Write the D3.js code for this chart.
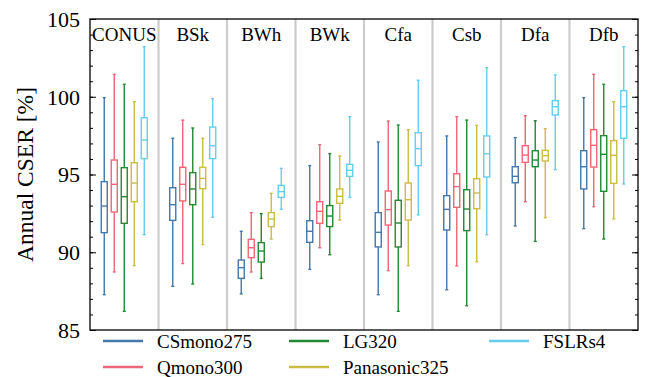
<!DOCTYPE html>
<html><head><meta charset="utf-8">
<script src="https://cdn.jsdelivr.net/npm/d3@7"></script>
<style>body{margin:0;background:#fff}svg{display:block}text{font-family:"Liberation Serif","Times New Roman",serif}</style>
</head><body><svg id="c" width="649" height="377"></svg>
<script>
const categories = ["CONUS","BSk","BWh","BWk","Cfa","Csb","Dfa","Dfb"];
const seriesNames = ["CSmono275","Qmono300","LG320","Panasonic325","FSLRs4"];
const seriesColors = ["#4477AA","#EE6677","#228833","#CCBB44","#66CCEE"];
const yTicks = [85,90,95,100,105];
// five-number summaries per category: [low whisker, Q1, median, Q3, high whisker]
const CSmono275 = [[87.27,91.26,92.97,94.54,99.94],[87.81,92.05,93.06,94.15,97.33],[87.32,88.32,89.01,89.5,91.35],[88.9,90.64,91.35,92.03,95.57],[87.27,90.34,91.28,92.55,97.09],[87.59,91.43,92.76,93.64,97.48],[91.69,94.47,94.88,95.5,97.37],[91.52,94.07,95.5,96.53,99.94]];
const Qmono300 = [[88.73,92.59,94.37,95.93,101.44],[89.27,93.3,94.37,95.46,98.5],[88.73,89.65,90.29,90.83,92.55],[90.29,91.86,92.63,93.25,96.92],[88.82,91.75,92.74,93.94,98.44],[89.12,92.89,94.22,95.05,98.72],[93.25,95.78,96.25,96.85,98.78],[92.93,95.48,96.88,97.88,101.44]];
const LG320 = [[86.2,91.86,93.57,95.44,100.8],[87.96,93.06,94.07,95.12,97.99],[88.32,89.37,90.08,90.62,92.48],[89.84,91.65,92.33,93.0,96.34],[86.2,90.34,91.88,93.34,98.18],[86.56,91.39,92.78,94.02,98.5],[90.7,95.5,95.93,96.53,98.46],[90.85,93.92,96.3,97.5,100.8]];
const Panasonic325 = [[89.14,93.25,94.45,95.76,99.68],[90.49,94.09,94.75,95.46,97.33],[90.85,91.65,92.14,92.55,93.79],[92.07,93.15,93.6,94.07,96.19],[89.14,92.07,93.38,94.45,97.88],[89.39,92.8,93.81,94.73,98.16],[92.22,95.87,96.21,96.55,97.95],[92.14,94.43,96.23,97.18,99.68]];
const FSLRs4 = [[91.13,96.02,97.22,98.65,103.22],[92.25,96.02,96.85,98.05,99.88],[92.76,93.53,93.9,94.3,95.4],[93.53,94.88,95.27,95.65,98.72],[92.4,95.57,96.66,97.69,101.06],[91.13,94.84,96.34,97.48,101.87],[95.31,98.83,99.36,99.75,101.4],[94.39,97.33,99.36,100.39,103.22]];
const seriesData = [CSmono275,Qmono300,LG320,Panasonic325,FSLRs4];

const L=90,R=638,T=19,B=330;
const svg=d3.select("#c");
const x=d3.scaleBand().domain(categories).range([L,R]).padding(0);
const xs=d3.scaleBand().domain(seriesNames).range([-25,25]).padding(0);
const y=d3.scaleLinear().domain([85,105]).range([B,T]);
const color=d3.scaleOrdinal().domain(seriesNames).range(seriesColors);

// separators
svg.append("g").selectAll("line").data(categories.slice(1)).join("line")
 .attr("x1",d=>x(d)).attr("x2",d=>x(d)).attr("y1",T).attr("y2",B)
 .attr("stroke","#cccccc").attr("stroke-width",2.2);

// category labels
svg.append("g").selectAll("text").data(categories).join("text")
 .attr("x",d=>x(d)+x.bandwidth()/2).attr("y",40.5).attr("text-anchor","middle")
 .attr("font-size",19).text(d=>d);

// boxes
const bw=6, cw=3;
seriesNames.forEach((s,si)=>{
  const g=svg.append("g").attr("stroke",color(s)).attr("stroke-width",1.4).attr("fill","white");
  const data=seriesData[si].map((v,ci)=>({cat:categories[ci],v}));
  const cx=d=>x(d.cat)+x.bandwidth()/2+xs(s)+xs.bandwidth()/2;
  const grp=g.selectAll("g").data(data).join("g");
  grp.append("line").attr("x1",cx).attr("x2",cx).attr("y1",d=>y(d.v[0])).attr("y2",d=>y(d.v[1]));
  grp.append("line").attr("x1",cx).attr("x2",cx).attr("y1",d=>y(d.v[3])).attr("y2",d=>y(d.v[4]));
  grp.append("line").attr("x1",d=>cx(d)-cw/2).attr("x2",d=>cx(d)+cw/2).attr("y1",d=>y(d.v[0])).attr("y2",d=>y(d.v[0]));
  grp.append("line").attr("x1",d=>cx(d)-cw/2).attr("x2",d=>cx(d)+cw/2).attr("y1",d=>y(d.v[4])).attr("y2",d=>y(d.v[4]));
  grp.append("rect").attr("x",d=>cx(d)-bw/2).attr("width",bw).attr("y",d=>y(d.v[3])).attr("height",d=>y(d.v[1])-y(d.v[3]));
  grp.append("line").attr("x1",d=>cx(d)-bw/2).attr("x2",d=>cx(d)+bw/2).attr("y1",d=>y(d.v[2])).attr("y2",d=>y(d.v[2]));
});

// axes
const minor=d3.range(85,106,1);
function styl(g){g.select(".domain").remove();g.selectAll("line").attr("stroke","#000").attr("stroke-width",1);}
svg.append("g").attr("transform",`translate(${L},0)`).call(d3.axisLeft(y).tickValues(minor).tickSize(-3).tickFormat("")).call(styl);
svg.append("g").attr("transform",`translate(${R},0)`).call(d3.axisRight(y).tickValues(minor).tickSize(-3).tickFormat("")).call(styl);
const ya=svg.append("g").attr("transform",`translate(${L},0)`).call(d3.axisLeft(y).tickValues(yTicks).tickSize(-6).tickPadding(10)).call(styl);
ya.selectAll("text").attr("font-size",22).attr("font-family","Liberation Serif").attr("fill","#000").attr("dy","0.34em");
svg.append("g").attr("transform",`translate(${R},0)`).call(d3.axisRight(y).tickValues(yTicks).tickSize(-6).tickFormat("")).call(styl);
svg.append("rect").attr("x",L).attr("y",T).attr("width",R-L).attr("height",B-T).attr("fill","none").attr("stroke","#000").attr("stroke-width",1.3);

// y label
svg.append("text").attr("transform",`translate(33,${(T+B)/2}) rotate(-90)`).attr("text-anchor","middle")
 .attr("font-size",23.5).text("Annual CSER [%]");

// legend
const legCols=[103,289,489], legRows=[341,367];
const leg=svg.append("g").selectAll("g").data(seriesNames).join("g")
 .attr("transform",(d,i)=>`translate(${legCols[Math.floor(i/2)]},${legRows[i%2]})`);
leg.append("line").attr("x1",0).attr("x2",40).attr("stroke",d=>color(d)).attr("stroke-width",2.5);
leg.append("text").attr("x",54).attr("y",7).attr("font-size",19).text(d=>d);
</script></body></html>
